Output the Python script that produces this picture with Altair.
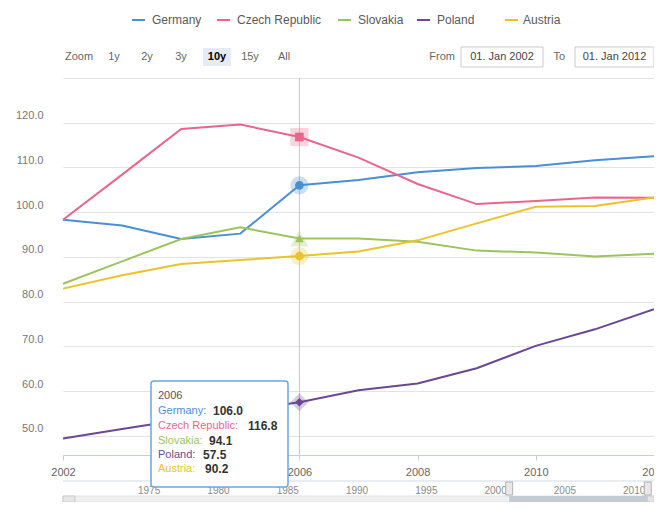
import altair as alt
import pandas as pd

# ---------------- data ----------------
years = [2002, 2003, 2004, 2005, 2006, 2007, 2008, 2009, 2010, 2011, 2012]
countries = ["Germany", "Czech Republic", "Slovakia", "Poland", "Austria"]
colors = ["#4a8fd4", "#e8668b", "#9dc35e", "#6a4894", "#e9c22c"]
germany = [98.3, 97.0, 94.0, 95.2, 106.0, 107.2, 108.9, 109.9, 110.3, 111.6, 112.5]
czech = [98.3, 108.4, 118.6, 119.6, 116.8, 112.2, 106.3, 101.8, 102.5, 103.3, 103.2]
slovakia = [84.0, 89.0, 94.0, 96.6, 94.1, 94.1, 93.4, 91.4, 91.0, 90.1, 90.7]
poland = [49.4, 51.5, 53.6, 55.6, 57.5, 60.2, 61.7, 65.1, 70.1, 73.8, 78.3]
austria = [82.9, 85.9, 88.4, 89.3, 90.2, 91.2, 93.7, 97.5, 101.2, 101.4, 103.3]
series = [germany, czech, slovakia, poland, austria]
marker_shapes = ["circle", "square", "triangle-up", "diamond", "circle"]
hover_year = 2006
x_ticks = [2002, 2006, 2008, 2010, 2012]  # 2004 lies under the tooltip
y_ticks = [50, 60, 70, 80, 90, 100, 110, 120, 130]
nav_ticks = [1975, 1980, 1985, 1990, 1995, 2000, 2005, 2010]
nav_domain = [1969.8, 2012.45]
zoom_buttons = ["1y", "2y", "3y", "10y", "15y", "All"]
selected_button = "10y"
range_from = "01. Jan 2002"
range_to = "01. Jan 2012"

# ---------------- layout (plot-area pixel coords) ----------------
W, H = 591, 377
OX, OY = 63, 78  # page position of plot origin

df = pd.DataFrame(
    [{"year": y, "country": c, "value": v}
     for c, s in zip(countries, series) for y, v in zip(years, s)]
)
hover = df[df["year"] == hover_year].copy()

xscale = alt.Scale(domain=[years[0], years[-1]], nice=False, zero=False)
yscale = alt.Scale(domain=[45.7, 130], nice=False, zero=False)
cscale = alt.Scale(domain=countries, range=colors)
sscale = alt.Scale(domain=countries, range=marker_shapes)

x_axis = alt.Axis(values=x_ticks, format="d", title=None, grid=False,
                  domainColor="#c0d0e0", tickColor="#c0d0e0", tickSize=5,
                  labelColor="#666666", labelFontSize=11, labelPadding=6,
                  labelFlush=False, labelOverlap=False)
y_axis = alt.Axis(values=y_ticks, title=None, domain=False, ticks=False,
                  labelExpr="datum.value >= 130 ? '' : format(datum.value, '.1f')",
                  gridColor="#e3e3e3", labelColor="#777777", labelFontSize=11,
                  labelPadding=20, labelBaseline="bottom", labelOffset=-2)

crosshair = alt.Chart(pd.DataFrame({"year": [hover_year]})).mark_rule(
    color="#c8c8c8", strokeWidth=1
).encode(x=alt.X("year:Q", scale=xscale, axis=x_axis))

lines = alt.Chart(df).mark_line(strokeWidth=2).encode(
    x=alt.X("year:Q", scale=xscale, axis=x_axis),
    y=alt.Y("value:Q", scale=yscale, axis=y_axis),
    color=alt.Color("country:N", scale=cscale, legend=None),
)
halos = alt.Chart(hover).mark_point(filled=True, size=330, opacity=0.28).encode(
    x=alt.X("year:Q", scale=xscale),
    y=alt.Y("value:Q", scale=yscale),
    color=alt.Color("country:N", scale=cscale, legend=None),
    shape=alt.Shape("country:N", scale=sscale, legend=None),
)
markers = alt.Chart(hover).mark_point(filled=True, size=75, opacity=1).encode(
    x=alt.X("year:Q", scale=xscale),
    y=alt.Y("value:Q", scale=yscale),
    color=alt.Color("country:N", scale=cscale, legend=None),
    shape=alt.Shape("country:N", scale=sscale, legend=None),
)
main = alt.layer(crosshair, lines, halos, markers)

# ---------------- navigator ----------------
nscale = alt.Scale(domain=nav_domain, nice=False, zero=False)
one = pd.DataFrame({"k": [0]})
nav_line = alt.Chart(one).mark_rule(color="#d3dae3", strokeWidth=1).encode(
    x=alt.value(0), x2=alt.value(W), y=alt.value(403))
nav_labels = alt.Chart(pd.DataFrame({"year": nav_ticks})).mark_text(
    align="left", dx=3, baseline="middle", fontSize=10, color="#8a8a8a"
).encode(x=alt.X("year:Q", scale=nscale, axis=None), y=alt.value(413),
         text=alt.Text("year:Q", format="d"))
track = alt.Chart(one).mark_rect(fill="#f0f0f0", stroke="#e2e2e2").encode(
    x=alt.value(0), x2=alt.value(W), y=alt.value(418), y2=alt.value(424))
thumb = alt.Chart(pd.DataFrame({"a": [years[0]], "b": [years[-1]]})).mark_rect(
    fill="#c3cbd4").encode(
    x=alt.X("a:Q", scale=nscale, axis=None), x2="b:Q",
    y=alt.value(418), y2=alt.value(424))
handles = alt.Chart(pd.DataFrame({"year": [years[0], years[-1]]})).transform_calculate(
    x0="datum.year - 0.25", x1="datum.year + 0.25"
).mark_rect(fill="#ebe7e8", stroke="#b2b1b6", strokeWidth=1).encode(
    x=alt.X("x0:Q", scale=nscale, axis=None), x2="x1:Q",
    y=alt.value(404), y2=alt.value(417))
btn_left = alt.Chart(one).mark_rect(fill="#e6e6e6", stroke="#cccccc").encode(
    x=alt.value(0), x2=alt.value(12), y=alt.value(418), y2=alt.value(424))
btn_right = alt.Chart(one).mark_rect(fill="#e6e6e6", stroke="#cccccc").encode(
    x=alt.value(W - 12), x2=alt.value(W), y=alt.value(418), y2=alt.value(424))
nav = alt.layer(nav_labels, thumb, handles)

# ---------------- legend ----------------
legend_sym_x = [132, 217, 338, 417, 505]
legend_txt_x = [152, 237, 358, 437, 523]
leg = pd.DataFrame({
    "country": countries, "color": colors,
    "sx": [v - OX for v in legend_sym_x],
    "sx2": [v - OX + 13 for v in legend_sym_x],
    "tx": [v - OX for v in legend_txt_x],
})
leg_sym = alt.Chart(leg).mark_rule(strokeWidth=2).encode(
    x=alt.X("sx:Q", scale=None), x2="sx2:Q", y=alt.value(20 - OY),
    color=alt.Color("color:N", scale=None))
leg_txt = alt.Chart(leg).mark_text(align="left", baseline="middle", fontSize=12,
                                   color="#5a5a5a").encode(
    x=alt.X("tx:Q", scale=None), y=alt.value(20 - OY), text="country:N")

# ---------------- range selector ----------------
btn_lefts = [100, 133, 167, 203, 236, 270]
bdf = pd.DataFrame({
    "label": zoom_buttons,
    "bx": [v - OX for v in btn_lefts],
    "bx2": [v - OX + 28 for v in btn_lefts],
    "cx": [v - OX + 14 for v in btn_lefts],
    "fill": ["#e6ebf5" if b == selected_button else "#ffffff" for b in zoom_buttons],
    "sel": [b == selected_button for b in zoom_buttons],
})
btn_rects = alt.Chart(bdf).mark_rect().encode(
    x=alt.X("bx:Q", scale=None), x2="bx2:Q",
    y=alt.value(48 - OY), y2=alt.value(66 - OY),
    fill=alt.Fill("fill:N", scale=None))
btn_txt = alt.Chart(bdf).transform_filter("!datum.sel").mark_text(
    align="center", baseline="middle", fontSize=11, color="#666666").encode(
    x=alt.X("cx:Q", scale=None), y=alt.value(57 - OY), text="label:N")
btn_txt_sel = alt.Chart(bdf).transform_filter("datum.sel").mark_text(
    align="center", baseline="middle", fontSize=11, fontWeight="bold",
    color="#000000").encode(
    x=alt.X("cx:Q", scale=None), y=alt.value(57 - OY), text="label:N")
zoom_lbl = alt.Chart(pd.DataFrame({"t": ["Zoom"]})).mark_text(
    align="left", baseline="middle", fontSize=11, color="#666666").encode(
    x=alt.value(65 - OX), y=alt.value(57 - OY), text="t:N")

inp = pd.DataFrame({
    "lbl": ["From", "To"], "lx": [455 - OX, 565 - OX],
    "bx": [461 - OX, 575 - OX], "bx2": [543 - OX, 654 - OX],
    "cx": [502 - OX, 614.5 - OX], "val": [range_from, range_to],
})
inp_lbl = alt.Chart(inp).mark_text(align="right", baseline="middle", fontSize=11,
                                   color="#666666").encode(
    x=alt.X("lx:Q", scale=None), y=alt.value(57 - OY), text="lbl:N")
inp_box = alt.Chart(inp).mark_rect(fill="#ffffff", stroke="#cccccc").encode(
    x=alt.X("bx:Q", scale=None), x2="bx2:Q",
    y=alt.value(47 - OY), y2=alt.value(67 - OY))
inp_txt = alt.Chart(inp).mark_text(align="center", baseline="middle", fontSize=11,
                                   color="#444444").encode(
    x=alt.X("cx:Q", scale=None), y=alt.value(57 - OY), text="val:N")

# ---------------- tooltip ----------------
idx = years.index(hover_year)
tip_rows = pd.DataFrame({
    "name": [c + ":" for c in countries],
    "val": [format(s[idx], ".1f") for s in series],
    "color": colors,
    "ny": [411 - OY, 426 - OY, 441 - OY, 455 - OY, 469 - OY],
    "vx": [213 - OX, 248 - OX, 209 - OX, 203 - OX, 205 - OX],
})
tip_box = alt.Chart(one).mark_rect(fill="#ffffff", opacity=1, stroke="#6aa6e0",
                                   strokeWidth=1.5, cornerRadius=3).encode(
    x=alt.value(151 - OX), x2=alt.value(288 - OX),
    y=alt.value(381 - OY), y2=alt.value(487 - OY))
tip_head = alt.Chart(pd.DataFrame({"t": [str(hover_year)]})).mark_text(
    align="left", baseline="middle", fontSize=11, color="#555555").encode(
    x=alt.value(158 - OX), y=alt.value(396 - OY), text="t:N")
tip_names = alt.Chart(tip_rows).mark_text(align="left", baseline="middle",
                                          fontSize=11).encode(
    x=alt.value(158 - OX), y=alt.Y("ny:Q", scale=None), text="name:N",
    color=alt.Color("color:N", scale=None))
tip_vals = alt.Chart(tip_rows).mark_text(align="left", baseline="middle",
                                         fontSize=12, fontWeight="bold",
                                         color="#333333").encode(
    x=alt.X("vx:Q", scale=None), y=alt.Y("ny:Q", scale=None), text="val:N")

chart = alt.layer(
    main, nav_line, track, btn_left, btn_right, nav,
    leg_sym, leg_txt, btn_rects, btn_txt, btn_txt_sel, zoom_lbl,
    inp_box, inp_lbl, inp_txt,
    tip_box, tip_head, tip_names, tip_vals,
).resolve_scale(
    x="independent", y="independent", color="independent", fill="independent"
).properties(
    width=W, height=H,
    padding={"left": 55, "top": 70, "right": 0, "bottom": 47},
    autosize=alt.AutoSizeParams(type="none"),
).configure(font="Liberation Sans").configure_view(stroke=None)

chart.save("out.html", embed_options={"renderer": "svg", "actions": False})
